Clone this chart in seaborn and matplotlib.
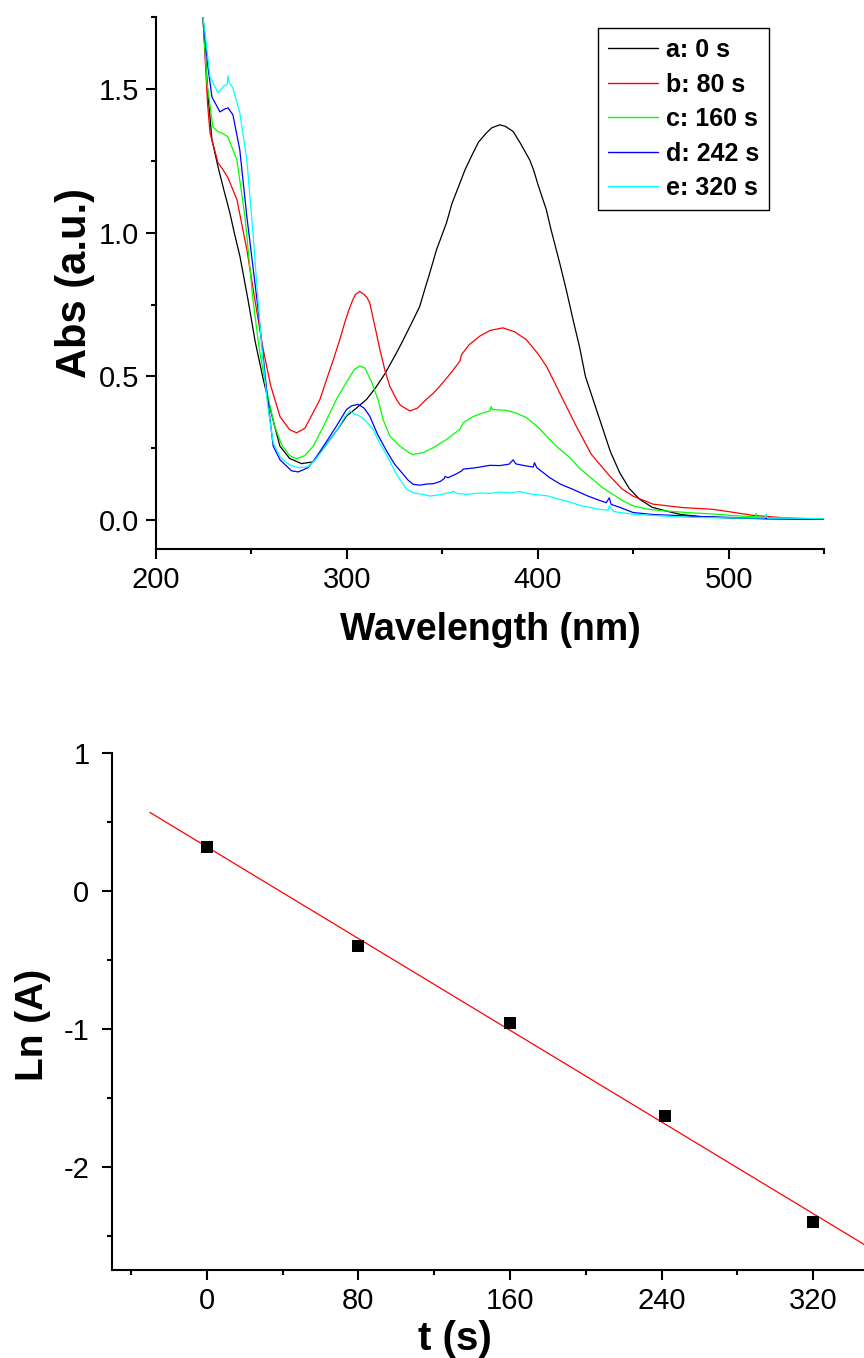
import numpy as np
import pandas as pd
import matplotlib
matplotlib.use("Agg")
import matplotlib.pyplot as plt
import seaborn as sns
from matplotlib.ticker import MultipleLocator, FormatStrFormatter
from matplotlib.lines import Line2D

# ---------------- data ----------------
wl_a = [222, 224.6, 227, 229.3, 232.5, 235.5, 238.7, 241, 244, 248.2, 252, 256.2, 260.5, 264.9, 270,
        276.2, 282.4, 290, 295, 299.8, 305, 310.3, 315, 320, 326, 329, 332, 335, 338.2, 341, 343, 347, 352.2,
        355, 359.2, 362, 366.1, 369, 373, 376, 380.1, 383, 387.1, 391, 395.8, 398, 400, 404.5, 407, 411.5,
        415, 418.5, 422, 425, 429, 434.2, 438, 442.9, 448, 453.4, 460, 467.4, 475, 484.8, 500, 520, 550]
abs_a = [2.1, 1.75, 1.5, 1.323, 1.229, 1.15, 1.069, 1.0, 0.917, 0.767, 0.62, 0.49, 0.37, 0.258, 0.215,
         0.197, 0.203, 0.27, 0.315, 0.362, 0.39, 0.42, 0.46, 0.51, 0.582, 0.62, 0.66, 0.70, 0.744, 0.807, 0.85, 0.941, 1.034,
         1.10, 1.172, 1.22, 1.277, 1.315, 1.346, 1.365, 1.375, 1.37, 1.352, 1.31, 1.253, 1.215, 1.17, 1.08, 1.01, 0.895,
         0.80, 0.698, 0.60, 0.50, 0.42, 0.316, 0.24, 0.166, 0.11, 0.073, 0.045, 0.032, 0.02, 0.013, 0.008, 0.005, 0.003]

wl_b = [222, 224.6, 227, 228.3, 232.5, 235, 237.7, 242.4, 247.6, 251.8, 256, 260, 265, 270, 273.7, 278,
        282, 285.9, 289.4, 293, 296.3, 299, 301, 303, 304.5, 306.8, 309, 310.5, 312, 314.5, 317.3, 320, 322.5,
        326, 328, 333, 337, 341.6, 345, 348.7, 353, 356, 359.2, 360.1, 364, 369.6, 375, 381.8, 388, 394, 400,
        404.5, 408, 413.2, 420.2, 428, 437.7, 444, 449.9, 460.4, 476.1, 491.8, 500, 512.7, 530, 550]
abs_b = [2.1, 1.75, 1.45, 1.347, 1.243, 1.22, 1.191, 1.115, 0.941, 0.767, 0.6, 0.47, 0.36, 0.315, 0.304, 0.32,
         0.37, 0.42, 0.49, 0.56, 0.628, 0.69, 0.73, 0.765, 0.785, 0.796, 0.785, 0.775, 0.756, 0.68, 0.594, 0.52, 0.466,
         0.42, 0.40, 0.38, 0.39, 0.42, 0.44, 0.466, 0.50, 0.525, 0.553, 0.576, 0.61, 0.64, 0.66, 0.669, 0.655, 0.628, 0.58,
         0.536, 0.49, 0.42, 0.327, 0.23, 0.154, 0.11, 0.084, 0.056, 0.044, 0.038, 0.03, 0.017, 0.008, 0.003]

wl_c = [222, 224.6, 226.7, 229.8, 232.5, 235, 237.7, 242.4, 246.6, 250.8, 254, 258, 262, 266, 270, 273.7,
        278, 282.4, 288, 294.5, 300.7, 304, 306.8, 309.4, 313, 316.3, 319, 322.5, 327.7, 333, 334.7, 340, 345.2,
        352, 359.2, 360.9, 366, 372, 375, 375.6, 376.3, 383.6, 389, 394, 400, 406.3, 411, 416.8, 422, 428.9,
        434, 439.4, 444, 449.9, 458, 467.4, 480, 493.5, 505, 514, 514.5, 515, 530, 550]
abs_c = [2.1, 1.75, 1.521, 1.368, 1.351, 1.345, 1.333, 1.253, 1.056, 0.767, 0.6, 0.45, 0.33, 0.26, 0.225, 0.214,
         0.225, 0.258, 0.33, 0.42, 0.49, 0.525, 0.536, 0.53, 0.48, 0.42, 0.35, 0.293, 0.258, 0.233, 0.229, 0.235, 0.252,
         0.28, 0.316, 0.339, 0.36, 0.375, 0.38, 0.395, 0.385, 0.382, 0.372, 0.357, 0.325, 0.281, 0.25, 0.218, 0.18, 0.142,
         0.113, 0.09, 0.07, 0.05, 0.038, 0.032, 0.026, 0.021, 0.015, 0.012, 0.024, 0.011, 0.007, 0.003]

wl_d = [222, 224.6, 227.2, 229.3, 233.5, 236, 237.7, 240.3, 243.9, 247.6, 252.9, 256, 258.5, 261.4, 265,
        268.3, 271, 274.5, 277, 279.7, 284, 289, 294.5, 299.8, 302.5, 305.9, 309, 312, 316, 320.8, 325, 329.5,
        332, 334.7, 338.2, 342, 345.2, 349, 351, 351.5, 353, 357, 360, 361, 367, 374.9, 380, 385, 387.1, 388.5,
        393, 397.6, 398.3, 399.5, 406.3, 412, 418.3, 426, 432, 435.9, 437.5, 438.5, 443, 449.9, 460, 484.8,
        500, 520, 550]
abs_d = [2.1, 1.75, 1.576, 1.472, 1.42, 1.43, 1.434, 1.41, 1.288, 1.056, 0.767, 0.58, 0.42, 0.258, 0.21,
         0.189, 0.172, 0.168, 0.175, 0.183, 0.22, 0.27, 0.327, 0.385, 0.398, 0.403, 0.39, 0.362, 0.3, 0.241, 0.195, 0.16,
         0.14, 0.125, 0.122, 0.126, 0.127, 0.135, 0.145, 0.152, 0.148, 0.16, 0.171, 0.178, 0.182, 0.191, 0.19, 0.195, 0.21, 0.196,
         0.19, 0.185, 0.2, 0.183, 0.148, 0.125, 0.108, 0.085, 0.07, 0.061, 0.078, 0.055, 0.045, 0.027, 0.02, 0.013,
         0.01, 0.006, 0.003]

wl_e = [222, 224.6, 225.7, 228.3, 232.5, 235.5, 237.3, 237.7, 238.2, 240.3, 243.9, 247.6, 250.8, 253.4, 256,
        258.5, 261.4, 265, 268.3, 271, 274.5, 279.7, 284, 289, 294.5, 299, 301.6, 304, 306.8, 310, 313.8, 317,
        320.8, 326, 331.3, 335, 340, 343.5, 348.7, 354, 356, 358, 362.7, 370, 375, 380, 386, 390, 397.6, 405,
        410, 415, 423, 432.4, 437, 437.5, 440, 449.9, 465, 480, 500, 519, 519.7, 520.5, 540, 550]
abs_e = [2.1, 1.75, 1.694, 1.542, 1.486, 1.51, 1.515, 1.545, 1.525, 1.503, 1.417, 1.253, 1.0, 0.767, 0.56,
         0.40, 0.27, 0.22, 0.2, 0.19, 0.183, 0.186, 0.215, 0.26, 0.31, 0.36, 0.38, 0.37, 0.362, 0.345, 0.316, 0.27,
         0.227, 0.16, 0.108, 0.095, 0.09, 0.084, 0.089, 0.096, 0.1, 0.093, 0.09, 0.095, 0.093, 0.098, 0.095, 0.1, 0.09, 0.085,
         0.075, 0.067, 0.05, 0.038, 0.035, 0.05, 0.03, 0.021, 0.015, 0.01, 0.008, 0.008, 0.022, 0.007, 0.007, 0.005]

series_labels = ["a: 0 s", "b: 80 s", "c: 160 s", "d: 242 s", "e: 320 s"]
series_colors = ["#000000", "#FF0000", "#00FF00", "#0000FF", "#00FFFF"]

t_s = [0, 80, 160, 242, 320]
ln_A = [0.32, -0.40, -0.96, -1.63, -2.40]

# ---------------- styling ----------------
sns.set_style("ticks")
plt.rcParams["font.family"] = ["Liberation Sans", "DejaVu Sans"]
plt.rcParams["axes.unicode_minus"] = False
plt.rcParams["text.color"] = "black"
plt.rcParams["axes.labelcolor"] = "black"
plt.rcParams["xtick.color"] = "black"
plt.rcParams["ytick.color"] = "black"
plt.rcParams["xtick.labelcolor"] = "black"
plt.rcParams["ytick.labelcolor"] = "black"

fig = plt.figure(figsize=(8.64, 13.58), dpi=100)
W, H = 864, 1358
ax1 = fig.add_axes([156 / W, 1 - 549 / H, 668 / W, 532 / H])
ax2 = fig.add_axes([112 / W, 1 - 1270 / H, 758 / W, 517 / H])

# ---------------- top panel: spectra ----------------
spectra = [(wl_a, abs_a), (wl_b, abs_b), (wl_c, abs_c), (wl_d, abs_d), (wl_e, abs_e)]
frames = []
for (wl, ab), lab in zip(spectra, series_labels):
    frames.append(pd.DataFrame({"Wavelength": wl, "Abs": ab, "series": lab}))
df = pd.concat(frames, ignore_index=True)

sns.lineplot(data=df, x="Wavelength", y="Abs", hue="series", hue_order=series_labels,
             palette=series_colors, estimator=None, sort=False, linewidth=0.9, ax=ax1, legend=False)

ax1.set_xlim(200, 550)
ax1.set_ylim(-0.1, 1.75)
ax1.xaxis.set_major_locator(MultipleLocator(100))
ax1.xaxis.set_minor_locator(MultipleLocator(50))
ax1.yaxis.set_major_locator(MultipleLocator(0.5))
ax1.yaxis.set_minor_locator(MultipleLocator(0.25))
ax1.yaxis.set_major_formatter(FormatStrFormatter("%.1f"))

handles = [Line2D([0], [0], color=c, lw=1.0) for c in series_colors]
leg = ax1.legend(handles, series_labels, loc="upper right", bbox_to_anchor=(0.918, 0.979),
                 prop={"weight": "bold", "size": 18}, handlelength=2.0, handletextpad=0.3,
                 labelspacing=0.42, borderpad=0.4, borderaxespad=0, fancybox=False,
                 framealpha=1, edgecolor="black")
leg.get_frame().set_linewidth(1.0)
for txt in leg.get_texts():
    txt.set_color("black")

ax1.set_xlabel("Wavelength (nm)", fontsize=27, fontweight="bold", color="black")
ax1.set_ylabel("Abs (a.u.)", fontsize=30, fontweight="bold", color="black")
ax1.xaxis.set_label_coords(0.5, -0.152)
ax1.yaxis.set_label_coords(-0.121, 0.5)

# ---------------- bottom panel: kinetics ----------------
sns.scatterplot(x=t_s, y=ln_A, marker="s", s=64, color="black", linewidth=0, ax=ax2, zorder=3)
slope, intercept = np.polyfit(t_s, ln_A, 1)
t_fit = np.array([-30, 350])
sns.lineplot(x=t_fit, y=slope * t_fit + intercept, color="#FF0000", linewidth=0.9, ax=ax2)

ax2.set_xlim(-50, 350)
ax2.set_ylim(-2.75, 1)
ax2.xaxis.set_major_locator(MultipleLocator(80))
ax2.xaxis.set_minor_locator(MultipleLocator(40))
ax2.yaxis.set_major_locator(MultipleLocator(1))
ax2.yaxis.set_minor_locator(MultipleLocator(0.5))

ax2.set_xlabel("t (s)", fontsize=29, fontweight="bold", color="black")
ax2.set_ylabel("Ln (A)", fontsize=28, fontweight="bold", color="black")
ax2.xaxis.set_label_coords(0.452, -0.133)
ax2.yaxis.set_label_coords(-0.104, 0.474)

for ax in (ax1, ax2):
    sns.despine(ax=ax)
    for sp in ("left", "bottom"):
        ax.spines[sp].set_linewidth(1.5)
        ax.spines[sp].set_color("black")
    ax.tick_params(which="major", direction="out", length=7.2, width=1.5, labelsize=21,
                   color="black", labelcolor="black")
    ax.tick_params(which="minor", direction="out", length=3.6, width=1.5, color="black")
    ax.tick_params(axis="x", which="major", pad=5)
    ax.xaxis.label.set_va("center")
    ax.yaxis.label.set_va("center")
    ax.grid(False)
ax1.tick_params(axis="y", which="major", pad=5)
ax2.tick_params(axis="y", which="major", pad=9)

fig.savefig("out.png", dpi=100)
